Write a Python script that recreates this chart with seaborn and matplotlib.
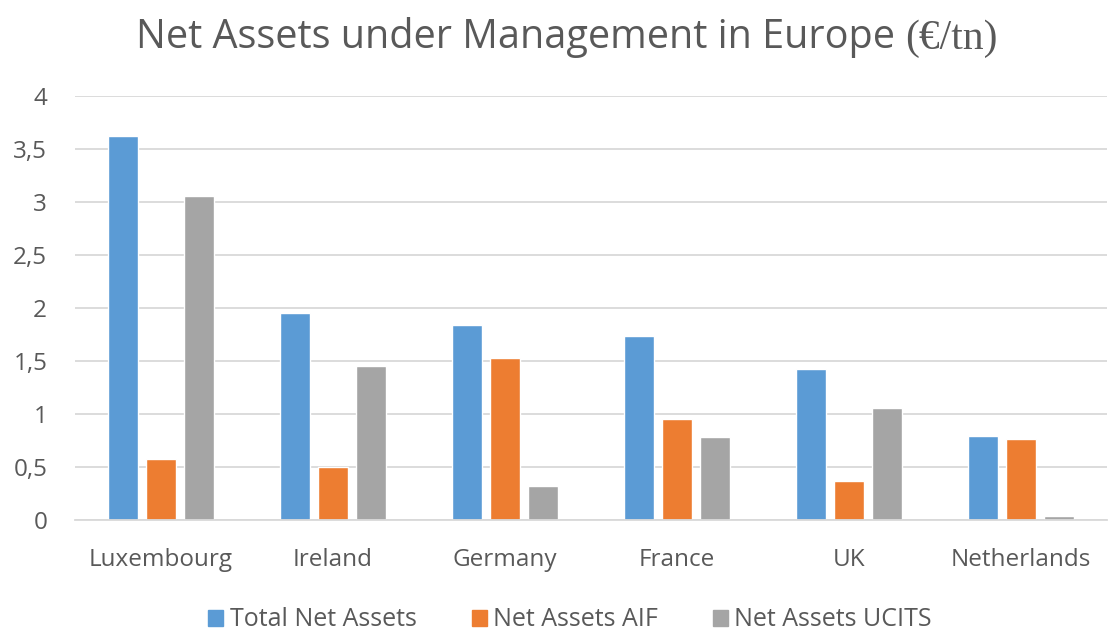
import matplotlib
matplotlib.use("Agg")
import matplotlib.pyplot as plt
import seaborn as sns
import pandas as pd
from matplotlib.ticker import FuncFormatter, MultipleLocator
from matplotlib.offsetbox import TextArea, HPacker, AnchoredOffsetbox

countries = ["Luxembourg", "Ireland", "Germany", "France", "UK", "Netherlands"]
series_names = ["Total Net Assets", "Net Assets AIF", "Net Assets UCITS"]
total = [3.62, 1.95, 1.84, 1.74, 1.42, 0.79]
aif = [0.575, 0.50, 1.53, 0.95, 0.37, 0.76]
ucits = [3.06, 1.45, 0.32, 0.78, 1.06, 0.038]
colors = ["#5B9BD5", "#ED7D31", "#A5A5A5"]

rows = []
for name, vals in zip(series_names, [total, aif, ucits]):
    for c, v in zip(countries, vals):
        rows.append({"Country": c, "Series": name, "Value": v})
df = pd.DataFrame(rows)

sns.set_theme(style="white")
plt.rcParams["font.family"] = ["Open Sans", "DejaVu Sans"]

fig = plt.figure(figsize=(11.08, 6.32), dpi=100)
ax = fig.add_axes([75 / 1108, 112 / 632, 1032 / 1108, 424 / 632])

sns.barplot(data=df, x="Country", y="Value", hue="Series", order=countries,
            hue_order=series_names, palette=colors, width=0.663, gap=0.22,
            saturation=1, ax=ax, legend=False)

ax.set_ylim(0, 4)
ax.set_xlim(-0.5, 5.5)
ax.yaxis.set_major_locator(MultipleLocator(0.5))
ax.yaxis.set_major_formatter(FuncFormatter(lambda v, p: f"{v:g}".replace(".", ",")))
ax.grid(axis="y", color="#D9D9D9", linewidth=1.3)
ax.set_axisbelow(True)
for s in ["top", "right", "left"]:
    ax.spines[s].set_visible(False)
ax.spines["bottom"].set_color("#D9D9D9")
ax.spines["bottom"].set_linewidth(1.3)
ax.tick_params(axis="y", length=0, pad=20, labelsize=17.5, labelcolor="#595959")
ax.tick_params(axis="x", length=0, pad=20, labelsize=17.5, labelcolor="#595959")
ax.set_xlabel("")
ax.set_ylabel("")

# Title with serif unit part
t1 = TextArea("Net Assets under Management in Europe ",
              textprops=dict(fontsize=28.5, color="#595959", family=["Open Sans", "DejaVu Sans"]))
t2 = TextArea("(€/tn)",
              textprops=dict(fontsize=30, color="#595959", family=["Liberation Serif", "DejaVu Serif"]))
box = HPacker(children=[t1, t2], align="baseline", pad=0, sep=0)
anch = AnchoredOffsetbox(loc="center", child=box, frameon=False,
                         bbox_to_anchor=(567 / 1108, 1 - 38 / 632), bbox_transform=fig.transFigure,
                         borderpad=0, pad=0)
fig.add_artist(anch)

handles = [plt.Rectangle((0, 0), 1, 1, color=c) for c in colors]
fig.legend(handles, series_names, loc="center", bbox_to_anchor=(570 / 1108, 1 - 620 / 632),
           ncol=3, frameon=False, fontsize=18, labelcolor="#595959",
           handlelength=0.6, handleheight=0.6, handletextpad=0.25, columnspacing=2.2,
           borderpad=0)

fig.savefig("out.png", dpi=100)
